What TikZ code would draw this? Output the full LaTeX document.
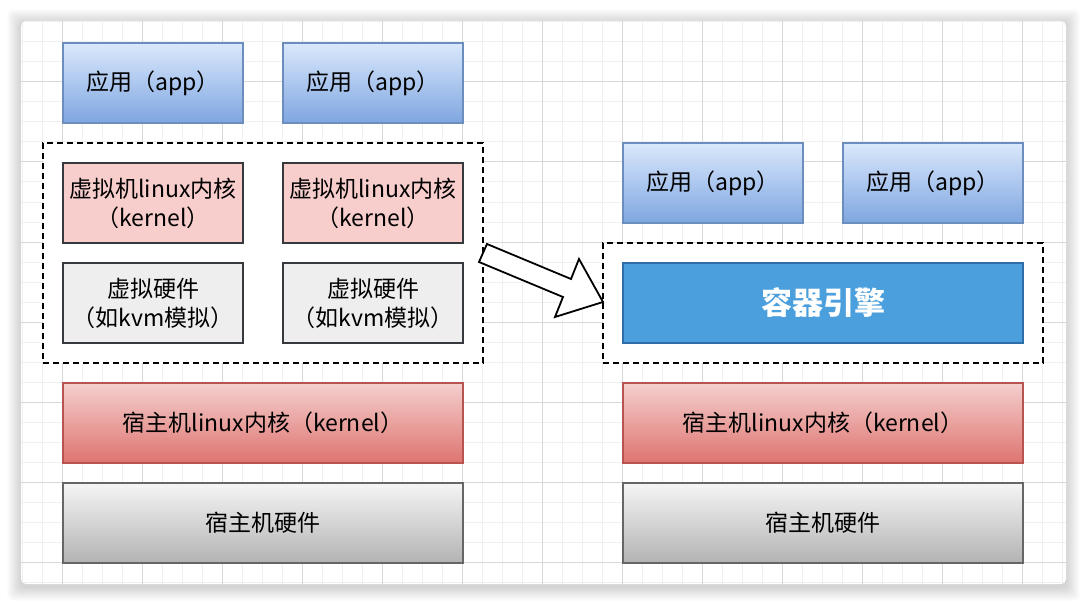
\documentclass[tikz,border=0pt]{standalone}
\usepackage{fontspec}
\setmainfont{Noto Sans CJK SC}
\definecolor{appTop}{HTML}{DAE8FC}
\definecolor{appBot}{HTML}{7EA6E0}
\definecolor{appLine}{HTML}{6C8EBF}
\definecolor{vkFill}{HTML}{F8CECC}
\definecolor{darkLine}{HTML}{36393D}
\definecolor{vhFill}{HTML}{EEEEEE}
\definecolor{hkTop}{HTML}{F4CFCD}
\definecolor{hkBot}{HTML}{DE7470}
\definecolor{hkLine}{HTML}{B85450}
\definecolor{hwTop}{HTML}{F5F5F5}
\definecolor{hwBot}{HTML}{B3B3B3}
\definecolor{hwLine}{HTML}{666666}
\definecolor{engFill}{HTML}{4A9FDC}
\definecolor{engLine}{HTML}{2E6DA8}
\definecolor{gridMinor}{HTML}{F0F0F0}
\definecolor{gridMajor}{HTML}{D8D8D8}
\newcommand{\lbl}{\fontsize{23}{29}\selectfont}
\tikzset{
  box/.style={draw, minimum width=180pt, minimum height=80pt, inner sep=0pt, line width=1.3pt, align=center, font=\lbl, text=black},
  wide/.style={box, minimum width=400pt},
  appbox/.style={box, top color=appTop, bottom color=appBot, draw=appLine},
  vkbox/.style={box, fill=vkFill, draw=darkLine},
  vhbox/.style={box, fill=vhFill, draw=darkLine},
  hkbox/.style={wide, top color=hkTop, bottom color=hkBot, draw=hkLine},
  hwbox/.style={wide, top color=hwTop, bottom color=hwBot, draw=hwLine},
  engbox/.style={wide, fill=engFill, draw=engLine, text=white, font=\fontsize{31}{36}\selectfont\bfseries},
  group/.style={draw=black, dashed, dash pattern=on 6pt off 4pt, line width=1.8pt, inner sep=0pt, fill=white},
}
\begin{document}
\begin{tikzpicture}[x=1pt,y=-1pt]
\useasboundingbox (0,0) rectangle (1086,604);
% shadow
\foreach \i in {1,...,14}{
  \fill[black, opacity=0.012, rounded corners=6pt] ({21-\i},{23-\i}) rectangle ({1066+\i},{587+\i});
}
% card
\fill[white, rounded corners=5pt] (21,21) rectangle (1066,584);
\begin{scope}
\clip[rounded corners=5pt] (21,21) rectangle (1066,584);
\foreach \x in {22,42,...,1062} \draw[gridMinor, line width=1pt] (\x,21) -- (\x,584);
\foreach \y in {22,42,...,582} \draw[gridMinor, line width=1pt] (21,\y) -- (1066,\y);
\foreach \x in {62,142,...,1022} \draw[gridMajor, line width=1pt] (\x,21) -- (\x,584);
\foreach \y in {82,162,...,562} \draw[gridMajor, line width=1pt] (21,\y) -- (1066,\y);
\end{scope}
% dashed groups
\node[group, minimum width=440pt, minimum height=220pt] (vmgroup) at (263,253) {};
\node[group, minimum width=440pt, minimum height=120pt] (cgroup) at (823,303) {};
% left stack
\node[appbox] (app1) at (153,83) {应用（app）};
\node[appbox] (app2) at (373,83) {应用（app）};
\node[vkbox] (vk1) at (153,203) {虚拟机linux内核\\（kernel）};
\node[vkbox] (vk2) at (373,203) {虚拟机linux内核\\（kernel）};
\node[vhbox] (vh1) at (153,303) {虚拟硬件\\（如kvm模拟）};
\node[vhbox] (vh2) at (373,303) {虚拟硬件\\（如kvm模拟）};
\node[hkbox] (hk1) at (263,423) {宿主机linux内核（kernel）};
\node[hwbox] (hw1) at (263,523) {宿主机硬件};
% right stack
\node[appbox] (app3) at (713,183) {应用（app）};
\node[appbox] (app4) at (933,183) {应用（app）};
\node[engbox] (eng) at (823,303) {容器引擎};
\node[hkbox] (hk2) at (823,423) {宿主机linux内核（kernel）};
\node[hwbox] (hw2) at (823,523) {宿主机硬件};
% block arrow
\draw[black, fill=white, line width=1.8pt, line join=miter]
  (487,244) -- (571,279) -- (579,259) -- (603,302) -- (555,317) -- (563,297) -- (479,262) -- cycle;
\end{tikzpicture}
\end{document}
